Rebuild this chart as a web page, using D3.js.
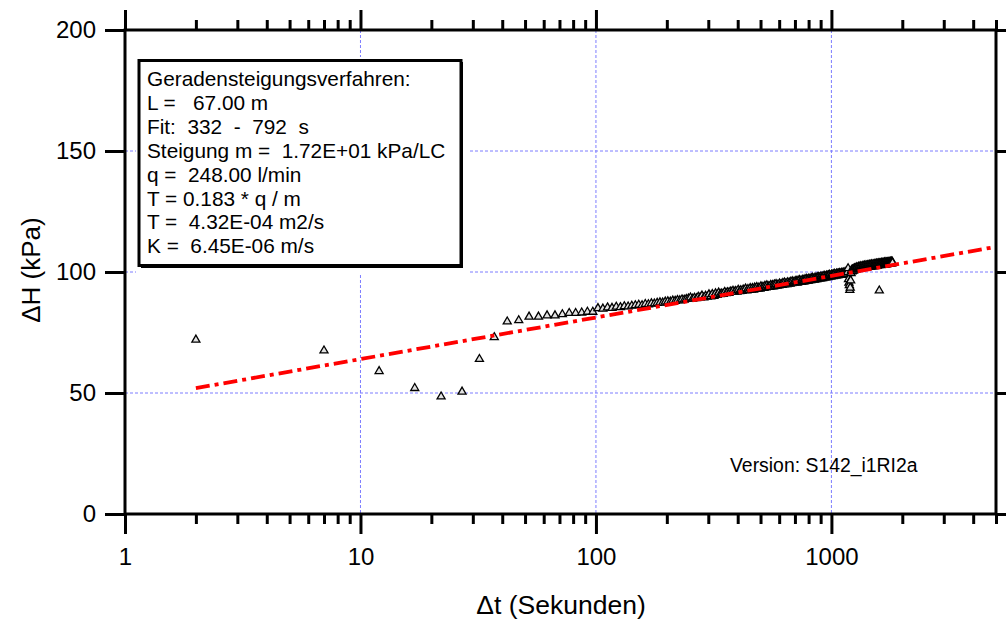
<!DOCTYPE html>
<html><head><meta charset="utf-8">
<script src="https://cdn.jsdelivr.net/npm/d3@7"></script>
<style>
body{margin:0;background:#fff}
svg{display:block}
text{font-family:"Liberation Sans",Arial,sans-serif;fill:#000}
</style>
</head><body><svg id="c" width="1006" height="626"></svg>
<script>
// ---- data ----
const timeSec = [
2,7,12,17,22,27,32,37,42,47,
52,57,62,67,72,77,82,87,92,97,
102,107,112,117,122,127,132,137,142,147,
152,157,162,167,172,177,182,187,192,197,
202,207,212,217,222,227,232,237,242,247,
252,257,262,267,272,277,282,287,292,297,
302,307,312,317,322,327,332,337,342,347,
352,357,362,367,372,377,382,387,392,397,
402,407,412,417,422,427,432,437,442,447,
452,457,462,467,472,477,482,487,492,497,
502,507,512,517,522,527,532,537,542,547,
552,557,562,567,572,577,582,587,592,597,
602,607,612,617,622,627,632,637,642,647,
652,657,662,667,672,677,682,687,692,697,
702,707,712,717,722,727,732,737,742,747,
752,757,762,767,772,777,782,787,792,797,
802,807,812,817,822,827,832,837,842,847,
852,857,862,867,872,877,882,887,892,897,
902,907,912,917,922,927,932,937,942,947,
952,957,962,967,972,977,982,987,992,997,
1002,1007,1012,1017,1022,1027,1032,1037,1042,1047,
1052,1057,1062,1067,1072,1077,1082,1087,1092,1097,
1102,1107,1112,1117,1122,1127,1132,1137,1142,1147,
1152,1157,1162,1167,1172,1177,1182,1187,1192,1197,
1202,1207,1212,1217,1222,1227,1232,1237,1242,1247,
1252,1257,1262,1267,1272,1277,1282,1287,1292,1297,
1302,1307,1312,1317,1322,1327,1332,1337,1342,1347,
1352,1357,1362,1367,1372,1377,1382,1387,1392,1397,
1402,1407,1412,1417,1422,1427,1432,1437,1442,1447,
1452,1457,1462,1467,1472,1477,1482,1487,1492,1497,
1502,1507,1512,1517,1522,1527,1532,1537,1542,1547,
1552,1557,1562,1567,1572,1577,1582,1587,1592,1597,
1602,1607,1612,1617,1622,1627,1632,1637,1642,1647,
1652,1657,1662,1667,1672,1677,1682,1687,1692,1697,
1702,1707,1712,1717,1722,1727,1732,1737,1742,1747,
1752,1757,1762,1767,1772,1777,1782,1787,1792,1797,
1802,1807,1812,1817
];
const deltaH = [
72,67.5,59,52,48.5,50.5,64,73,79.5,80,
81.5,81.5,82,82,82.5,83,83,83.2,83.5,83.5,
85,84.8,85.3,85.1,85.6,85.4,85.8,85.7,86,86.2,
86.4,86.2,86.7,86.6,87,86.9,87.2,87.4,87.3,87.7,
87.8,87.7,88.1,88,88.3,88.2,88.6,88.5,88.8,89,
89.4,88.9,89.3,89.1,89.7,89.5,90.2,89.4,90.1,89.8,
90.7,89.9,90.8,90.1,91.1,90.5,91.4,90.8,91,90.9,
91.7,91.2,91.6,91.3,91.9,91.7,92.2,91.7,92.1,91.8,
92.6,92,92.4,92.1,92.7,92.4,93.1,92.3,92.9,92.5,
93.3,92.7,93.3,92.7,93.5,93.1,93.7,93.1,93.5,93.1,
94,93.4,93.8,93.4,94.2,93.6,94.4,93.8,94,93.8,
94.6,94,94.5,94,94.8,94.3,95,94.3,94.7,94.4,
95.2,94.6,95,94.6,95.4,94.8,95.6,94.9,95.3,94.9,
95.7,95.1,95.6,95.1,95.9,95.3,96.1,95.4,95.8,95.4,
96.2,95.6,96.2,95.5,96.4,95.9,96.6,95.9,96.3,95.9,
96.7,96.1,96.6,96.1,96.9,96.3,97.1,96.4,96.8,96.4,
97.2,96.6,97.1,96.6,97.3,96.9,97.5,96.9,97.1,96.8,
97.6,97,97.5,97,97.7,97.3,97.9,97.3,97.6,97.3,
98.1,97.4,98,97.4,98.2,97.7,98.4,97.7,98,97.7,
98.5,97.9,98.4,97.8,98.6,98.1,98.8,98.1,98.4,98.1,
98.9,98.3,98.8,98.2,99,98.5,99.2,98.5,98.8,98.5,
99.3,98.6,99.2,98.6,99.3,98.9,99.5,98.8,99.2,98.8,
99.6,98.9,99.5,98.9,99.6,99.2,99.8,99.1,99.5,99.1,
99.9,99.3,99.8,99.3,100,101.5,97,95.5,94.5,92.5,
93.5,96.5,99.5,100.7,100.2,101,100.4,101.1,100.6,101.2,
101.5,100.9,101.4,100.9,101.7,101.2,101.9,101.2,101.6,101.2,
102.1,101.4,102,101.4,102.1,101.7,102.3,101.6,102,101.6,
102.4,101.7,102.3,101.7,102.4,102,102.6,101.9,102.2,101.9,
102.7,102,102.5,102,102.7,102.2,102.8,102.2,102.5,102.1,
102.9,102.2,102.8,102.2,102.9,102.4,103.1,102.4,102.7,102.3,
103.1,102.5,103,102.4,103.1,102.7,103.3,102.6,102.9,102.5,
103.4,102.7,103.2,102.6,103.3,102.9,103.5,102.8,103.1,92.3,
103.5,102.9,103.4,102.8,103.5,103,103.7,103,103.3,102.9,
103.7,103.1,103.6,103,103.7,103.2,103.9,103.2,103.5,103.1,
103.9,103.2,103.8,103.2,103.9,103.4,104,103.4,103.7,103.3,
104.1,103.4,104,103.4,104.1,103.6,104.2,103.6,103.9,103.5,
104.3,103.6,104.2,103.8
];
const fitTime = [2, 5000];
const fitDeltaH = [52, 110.4];
const xMajorTicks = [1, 10, 100, 1000];
const xMinorTicks = [2,3,4,5,6,7,8,9,20,30,40,50,60,70,80,90,200,300,400,500,600,700,800,900,2000,3000,4000,5000];
const xGrid = [10, 100, 1000];
const yTicks = [0, 50, 100, 150, 200];
const yGrid = [50, 100, 150];
const xTitle = "Δt (Sekunden)";
const yTitle = "ΔH (kPa)";
const legendLines = [
  "Geradensteigungsverfahren:",
  "L =   67.00 m",
  "Fit:  332  -  792  s",
  "Steigung m =  1.72E+01 kPa/LC",
  "q =  248.00 l/min",
  "T = 0.183 * q / m",
  "T =  4.32E-04 m2/s",
  "K =  6.45E-06 m/s"
];
const versionText = "Version: S142_i1RI2a";

// ---- chart ----
const svg = d3.select("#c");
const L = 125, R = 996, T = 30, B = 514;
const x = d3.scaleLog().domain([1, 5000]).range([L, R]);
const y = d3.scaleLinear().domain([0, 200]).range([B, T]);

// grid
const grid = svg.append("g").attr("stroke", "#7d7dff").attr("stroke-width", 1).attr("stroke-dasharray", "3,2");
grid.selectAll("line.gx").data(xGrid).join("line").attr("class","gx")
  .attr("x1", d => x(d)).attr("x2", d => x(d)).attr("y1", T).attr("y2", B);
grid.selectAll("line.gy").data(yGrid).join("line").attr("class","gy")
  .attr("x1", L).attr("x2", R).attr("y1", d => y(d)).attr("y2", d => y(d));

// points
const pts = timeSec.map((t, i) => [t, deltaH[i]]);
const sym = d3.symbol(d3.symbolTriangle, 28);
svg.append("g").selectAll("path").data(pts).join("path")
  .attr("d", sym)
  .attr("transform", d => `translate(${x(d[0])},${y(d[1])})`)
  .attr("fill", "#e2e2e2").attr("stroke", "#000").attr("stroke-width", 1.3);

// fit line
const fitPts = fitTime.map((t, i) => [t, fitDeltaH[i]]);
svg.append("path").datum(fitPts)
  .attr("d", d3.line().x(d => x(d[0])).y(d => y(d[1])))
  .attr("fill", "none").attr("stroke", "#ff0000").attr("stroke-width", 3.8)
  .attr("stroke-dasharray", "14,5,4,5");

// axes
function styleAxis(g){
  g.select(".domain").remove();
  g.selectAll(".tick line").attr("stroke", "#000").attr("stroke-width", 3);
  g.selectAll(".tick text").attr("font-size", 24).attr("font-family", '"Liberation Sans",Arial,sans-serif').attr("fill","#000");
}
svg.append("g").attr("transform", `translate(0,${B})`)
  .call(d3.axisBottom(x).tickValues(xMajorTicks).tickSize(20).tickPadding(14).tickFormat(d3.format("d")))
  .call(styleAxis);
svg.append("g").attr("transform", `translate(0,${B})`)
  .call(d3.axisBottom(x).tickValues(xMinorTicks).tickSize(10).tickFormat(""))
  .call(styleAxis);
svg.append("g").attr("transform", `translate(0,${T})`)
  .call(d3.axisTop(x).tickValues(xMajorTicks).tickSize(20).tickFormat(""))
  .call(styleAxis);
svg.append("g").attr("transform", `translate(0,${T})`)
  .call(d3.axisTop(x).tickValues(xMinorTicks).tickSize(10).tickFormat(""))
  .call(styleAxis);
svg.append("g").attr("transform", `translate(${L},0)`)
  .call(d3.axisLeft(y).tickValues(yTicks).tickSize(20).tickPadding(9))
  .call(styleAxis);
svg.append("g").attr("transform", `translate(${R},0)`)
  .call(d3.axisRight(y).tickValues(yTicks).tickSize(12).tickFormat(""))
  .call(styleAxis);

// frame
svg.append("rect").attr("x", L).attr("y", T).attr("width", R - L).attr("height", B - T)
  .attr("fill", "none").attr("stroke", "#000").attr("stroke-width", 3);

// titles
svg.append("text").attr("x", 561).attr("y", 614).attr("text-anchor", "middle")
  .attr("font-size", 26.5).text(xTitle);
svg.append("text").attr("transform", "translate(40,270) rotate(-90)").attr("text-anchor", "middle")
  .attr("font-size", 26).text(yTitle);

// legend box
const lg = svg.append("g");
lg.append("rect").attr("x", 136).attr("y", 57).attr("width", 332).attr("height", 217).attr("fill", "#fff");
lg.append("rect").attr("x", 141).attr("y", 62).attr("width", 322).attr("height", 206).attr("fill", "#000");
lg.append("rect").attr("x", 139).attr("y", 60.5).attr("width", 322).attr("height", 205)
  .attr("fill", "#fff").attr("stroke", "#000").attr("stroke-width", 3);
lg.selectAll("text").data(legendLines).join("text")
  .attr("x", 147).attr("y", (d, i) => 86 + i * 23.9)
  .attr("font-size", 20.8).style("white-space", "pre").text(d => d);

svg.append("text").attr("x", 730).attr("y", 472).attr("font-size", 19.4).text(versionText);
</script>
</body></html>
